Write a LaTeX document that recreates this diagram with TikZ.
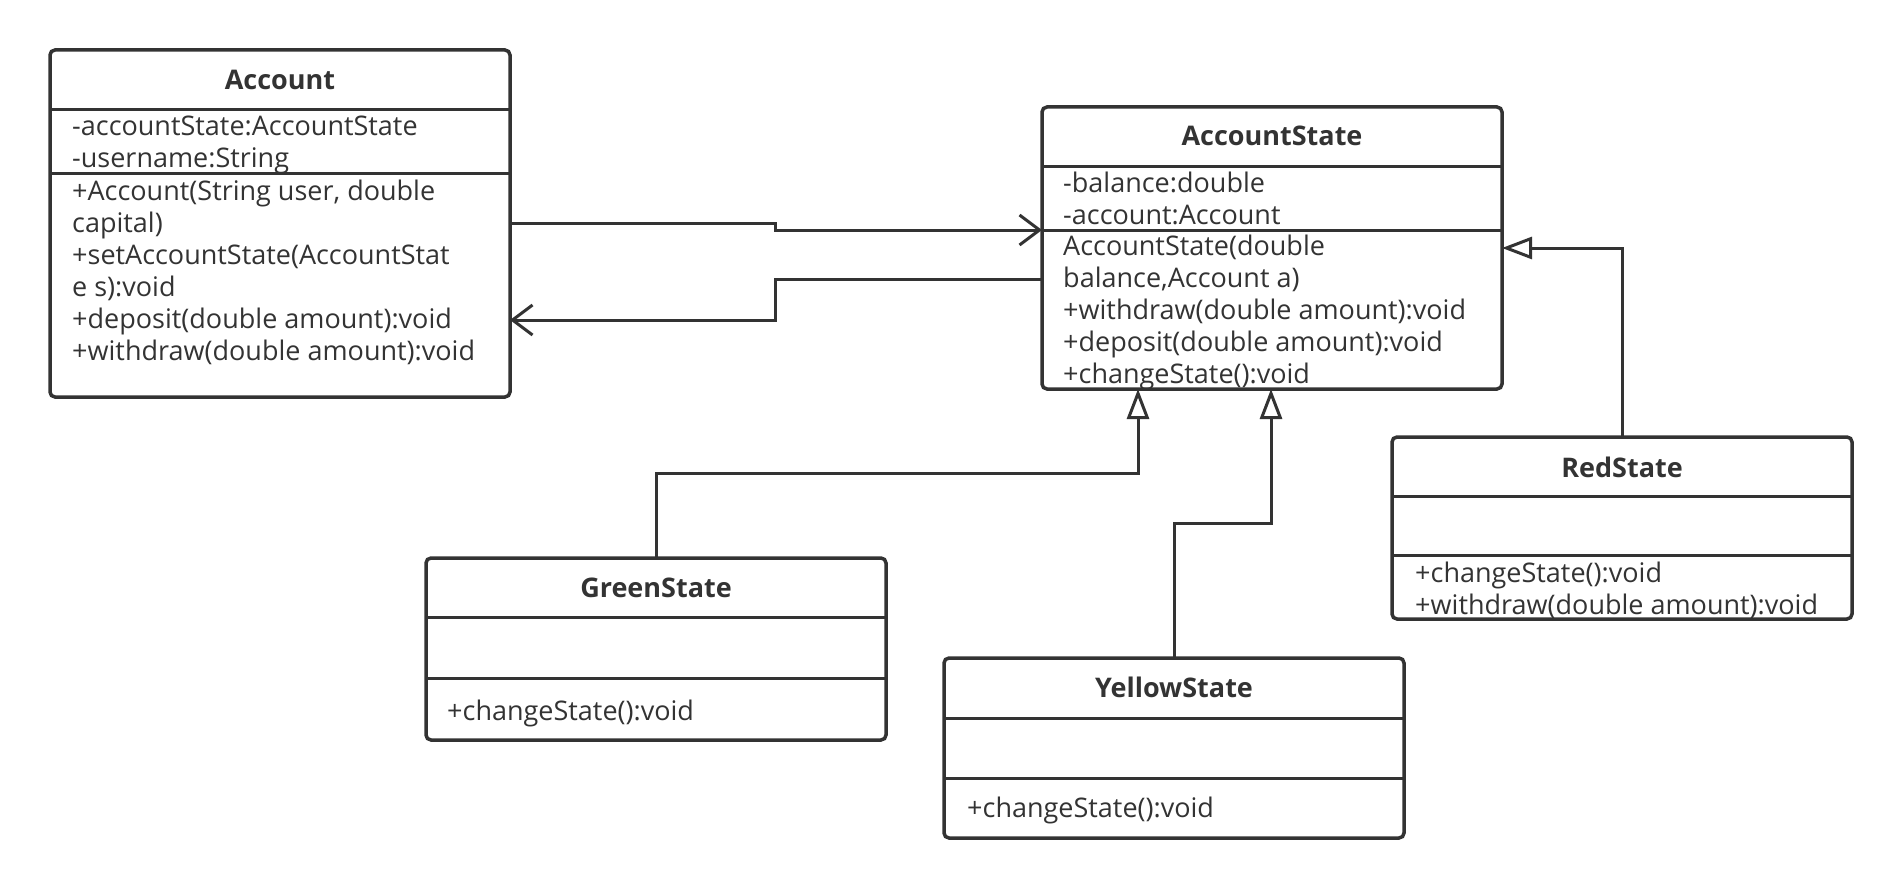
\documentclass[tikz,border=0pt]{standalone}
\usepackage{fontspec}
\setmainfont{Open Sans}
\usetikzlibrary{arrows.meta,positioning}

\definecolor{umlgray}{HTML}{333333}

\tikzset{
  classbox/.style={draw=umlgray, line width=3.5pt, rounded corners=5pt, minimum width=460pt, anchor=north west, inner sep=0pt, outer sep=0pt},
  classname/.style={font=\fontsize{27}{32}\selectfont\bfseries, text=umlgray, anchor=base},
  members/.style={font=\fontsize{27}{32}\selectfont, text=umlgray, align=left, anchor=north west, inner sep=0pt},
  divider/.style={draw=umlgray, line width=3pt},
  assoc/.style={draw=umlgray, line width=3pt, -{Straight Barb[length=20pt,width=30pt]}},
  inherit/.style={draw=umlgray, line width=3pt, -{Triangle[open,length=30pt,width=22pt,fill=white]}}
}

\begin{document}
\begin{tikzpicture}[x=1pt, y=-1pt]
        \useasboundingbox (0,0) rectangle (1902,888);

        \node[classbox, minimum height=347pt] (acc) at (50,50) {};
        \node[classname] (accname) at ([yshift=-40pt]acc.north) {Account};
        \draw[divider] ([yshift=-60pt]acc.north west) -- ([yshift=-60pt]acc.north east);
        \draw[divider] ([yshift=-123pt]acc.north west) -- ([yshift=-123pt]acc.north east);
        \node[members] (accattr) at ([xshift=22pt,yshift=-62.6pt]acc.north west)
            {\strut -accountState:AccountState\\-username:String};
        \node[members] (accops) at ([xshift=22pt,yshift=-127.6pt]acc.north west)
            {\strut +Account(String user, double\\capital)\\+setAccountState(AccountStat\\e s):void\\+deposit(double amount):void\\+withdraw(double amount):void};

        \node[classbox, minimum height=282pt] (ast) at (1042,107) {};
        \node[classname] (astname) at ([yshift=-38pt]ast.north) {AccountState};
        \draw[divider] ([yshift=-59pt]ast.north west) -- ([yshift=-59pt]ast.north east);
        \draw[divider] ([yshift=-123pt]ast.north west) -- ([yshift=-123pt]ast.north east);
        \node[members] (astattr) at ([xshift=21pt,yshift=-62.6pt]ast.north west)
            {\strut -balance:double\\-account:Account};
        \node[members] (astops) at ([xshift=21pt,yshift=-125.6pt]ast.north west)
            {\strut AccountState(double\\balance,Account a)\\+withdraw(double amount):void\\+deposit(double amount):void\\+changeState():void};

        \node[classbox, minimum height=182pt] (red) at (1392,437) {};
        \node[classname] (redname) at ([yshift=-40pt]red.north) {RedState};
        \draw[divider] ([yshift=-59pt]red.north west) -- ([yshift=-59pt]red.north east);
        \draw[divider] ([yshift=-118pt]red.north west) -- ([yshift=-118pt]red.north east);
        \node[members] (redops) at ([xshift=23pt,yshift=-122.6pt]red.north west)
            {\strut +changeState():void\\+withdraw(double amount):void};

        \node[classbox, minimum height=182pt] (grn) at (426,558) {};
        \node[classname] (grnname) at ([yshift=-39pt]grn.north) {GreenState};
        \draw[divider] ([yshift=-59pt]grn.north west) -- ([yshift=-59pt]grn.north east);
        \draw[divider] ([yshift=-120pt]grn.north west) -- ([yshift=-120pt]grn.north east);
        \node[members] (grnops) at ([xshift=21pt,yshift=-139.6pt]grn.north west)
            {\strut +changeState():void};

        \node[classbox, minimum height=180pt] (yel) at (944,658) {};
        \node[classname] (yelname) at ([yshift=-39pt]yel.north) {YellowState};
        \draw[divider] ([yshift=-60pt]yel.north west) -- ([yshift=-60pt]yel.north east);
        \draw[divider] ([yshift=-120pt]yel.north west) -- ([yshift=-120pt]yel.north east);
        \node[members] (yelops) at ([xshift=23pt,yshift=-136.6pt]yel.north west)
            {\strut +changeState():void};

        \draw[assoc] ([yshift=-173pt]acc.north east) -- ++(265,0) |- ([yshift=-123pt]ast.north west);
        \draw[assoc] ([yshift=-172pt]ast.north west) -- ++(-267,0) |- ([yshift=-270pt]acc.north east);

        \draw[inherit] (grn.north) -- ++(0,-85) -| ([xshift=-134pt]ast.south);
        \draw[inherit] (yel.north) -- ++(0,-135) -| ([xshift=-1pt]ast.south);
        \draw[inherit] (red.north) |- ([yshift=-141pt]ast.north east);
    \end{tikzpicture}
\end{document}
